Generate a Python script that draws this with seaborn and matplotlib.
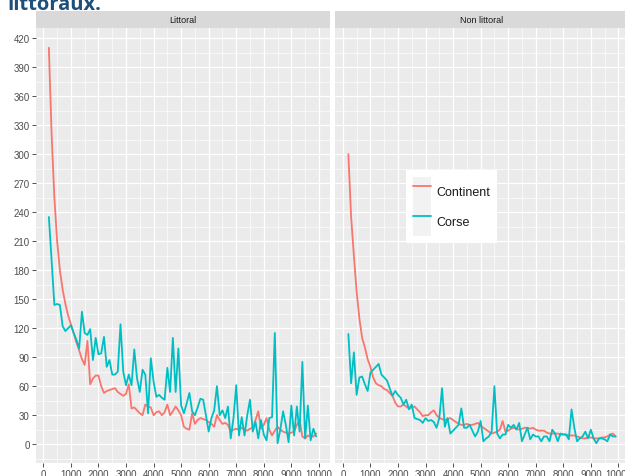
import pandas as pd
import seaborn as sns
import matplotlib.pyplot as plt
from matplotlib.ticker import MultipleLocator
from matplotlib.patches import Rectangle
from matplotlib.lines import Line2D
from matplotlib.legend_handler import HandlerTuple

# distances (m), un point tous les 100 m
distance = list(range(200, 10000, 100))

panneaux = ['Littoral', 'Non littoral']
territoires = ['Continent', 'Corse']
couleurs = ['#F8766D', '#00BFC4']

littoral_continent = [
    410, 320, 255, 210, 180, 160, 145, 133, 124, 115,
    105, 97, 88, 82, 107, 62, 68, 71, 71, 60,
    53, 55, 56, 57, 58, 54, 52, 50, 52, 62,
    37, 38, 35, 32, 30, 41, 39, 38, 30, 33,
    34, 30, 33, 41, 30, 34, 39, 35, 30, 18,
    16, 15, 32, 21, 25, 27, 26, 25, 23, 21,
    18, 30, 25, 21, 22, 20, 13, 15, 16, 15,
    17, 15, 14, 16, 17, 25, 34, 16, 20, 27,
    15, 9, 14, 18, 15, 13, 12, 11, 12, 13,
    20, 25, 8, 6, 9, 8, 8, 11,
]
littoral_corse = [
    235, 190, 144, 145, 144, 122, 117, 120, 123, 115,
    108, 99, 137, 115, 113, 119, 87, 110, 93, 94,
    111, 80, 87, 72, 72, 75, 124, 75, 61, 72,
    61, 98, 68, 54, 77, 72, 32, 89, 65, 49,
    51, 48, 46, 79, 54, 110, 54, 99, 40, 32,
    42, 53, 34, 30, 38, 47, 46, 30, 13, 27,
    35, 60, 30, 35, 27, 39, 6, 27, 61, 9,
    28, 9, 30, 46, 13, 23, 6, 25, 10, 4,
    27, 28, 115, 1, 15, 34, 20, 2, 40, 9,
    39, 13, 85, 6, 40, 4, 16, 8,
]
non_littoral_continent = [
    300, 235, 195, 158, 130, 110, 100, 88, 80, 69,
    63, 61, 60, 57, 56, 53, 50, 43, 39, 39,
    41, 39, 37, 38, 39, 36, 33, 29, 30, 30,
    33, 35, 30, 27, 26, 25, 26, 27, 25, 23,
    21, 20, 20, 21, 20, 20, 21, 22, 19, 17,
    15, 13, 11, 12, 13, 15, 24, 13, 14, 16,
    17, 16, 15, 16, 17, 17, 16, 17, 15, 14,
    14, 14, 12, 11, 11, 11, 11, 10, 10, 10,
    9, 9, 9, 8, 7, 6, 6, 7, 7, 6,
    6, 6, 7, 7, 8, 10, 11, 8,
]
non_littoral_corse = [
    114, 63, 95, 51, 69, 70, 62, 55, 74, 77,
    80, 83, 72, 69, 66, 58, 50, 55, 51, 48,
    41, 46, 36, 41, 27, 26, 25, 22, 27, 24,
    25, 23, 17, 27, 58, 18, 27, 11, 14, 17,
    20, 37, 17, 17, 20, 14, 8, 13, 24, 3,
    6, 8, 13, 60, 11, 6, 10, 10, 20, 17,
    20, 15, 22, 3, 10, 17, 5, 10, 8, 8,
    3, 8, 8, 3, 15, 11, 3, 11, 10, 10,
    5, 36, 17, 3, 6, 8, 13, 6, 15, 6,
    1, 6, 6, 5, 3, 10, 8, 8,
]

series = {
    ('Littoral', 'Continent'): littoral_continent,
    ('Littoral', 'Corse'): littoral_corse,
    ('Non littoral', 'Continent'): non_littoral_continent,
    ('Non littoral', 'Corse'): non_littoral_corse,
}
morceaux = []
for (zone, terr), vals in series.items():
    morceaux.append(pd.DataFrame({'zone': zone, 'territoire': terr,
                                  'distance': distance, 'valeur': vals}))
df = pd.concat(morceaux, ignore_index=True)

sns.set_theme(style='darkgrid', rc={'axes.facecolor': '#EBEBEB',
                                    'figure.facecolor': 'white'})
plt.rcParams['font.family'] = ['Liberation Sans', 'DejaVu Sans']

W, H = 625, 477
fig = plt.figure(figsize=(W / 100, H / 100), dpi=100)

# positions des panneaux en pixels
bas, haut = 464, 29
ax1 = fig.add_axes([35.5 / W, 1 - bas / H, 294 / W, (bas - haut) / H])
ax2 = fig.add_axes([335 / W, 1 - bas / H, 294 / W, (bas - haut) / H], sharey=ax1)
strip_h = 17 / (bas - haut)

for ax, zone in zip([ax1, ax2], panneaux):
    sns.lineplot(data=df[df['zone'] == zone], x='distance', y='valeur',
                 hue='territoire', hue_order=territoires, palette=couleurs,
                 linewidth=1.3, estimator=None, legend=False, ax=ax)
    ax.margins(x=0.05, y=0.05)
    ax.xaxis.set_major_locator(MultipleLocator(1000))
    ax.xaxis.set_minor_locator(MultipleLocator(500))
    ax.yaxis.set_major_locator(MultipleLocator(30))
    ax.yaxis.set_minor_locator(MultipleLocator(15))
    ax.grid(which='major', color='white', linewidth=0.9)
    ax.grid(which='minor', color='white', linewidth=0.45)
    ax.tick_params(which='major', bottom=True, left=True, length=2.7, width=0.6,
                   color='#333333', labelsize=7, labelcolor='#4D4D4D', pad=1.5)
    ax.tick_params(which='minor', bottom=False, left=False, length=0)
    ax.set_xlabel('')
    ax.set_ylabel('')
    for s in ax.spines.values():
        s.set_visible(False)
    # bandeau de facette
    ax.add_patch(Rectangle((0, 1), 1, strip_h, transform=ax.transAxes,
                           facecolor='#D9D9D9', edgecolor='none', clip_on=False))
    ax.text(0.5, 1 + strip_h / 2, zone, transform=ax.transAxes, ha='center',
            va='center', fontsize=6.5, color='#1A1A1A')

ax1.set_xlim(ax1.get_xlim())
ax2.set_xlim(ax1.get_xlim())
ax2.tick_params(which='major', left=False, labelleft=False)

poignees = [(Rectangle((0, 0), 1, 1, facecolor='#F2F2F2', edgecolor='none'),
             Line2D([], [], color=c, linewidth=1.3)) for c in couleurs]
leg = ax2.legend(poignees, territoires, handler_map={tuple: HandlerTuple()},
                 loc='upper left', bbox_to_anchor=(406 / W, 1 - 171 / H),
                 bbox_transform=fig.transFigure, borderaxespad=0,
                 fontsize=9, frameon=True, fancybox=False, framealpha=1,
                 facecolor='white', edgecolor='none', borderpad=0.55,
                 handlelength=1.45, handleheight=3.25, labelspacing=0,
                 handletextpad=0.45)
for t in leg.get_texts():
    t.set_color('#1A1A1A')

fig.text(7 / W, 1 - 9.5 / H, 'littoraux.', fontsize=14.5, fontweight='bold',
         color='#1F4E79', va='baseline', family=['Open Sans', 'DejaVu Sans'])

fig.savefig('out.png', dpi=100)
